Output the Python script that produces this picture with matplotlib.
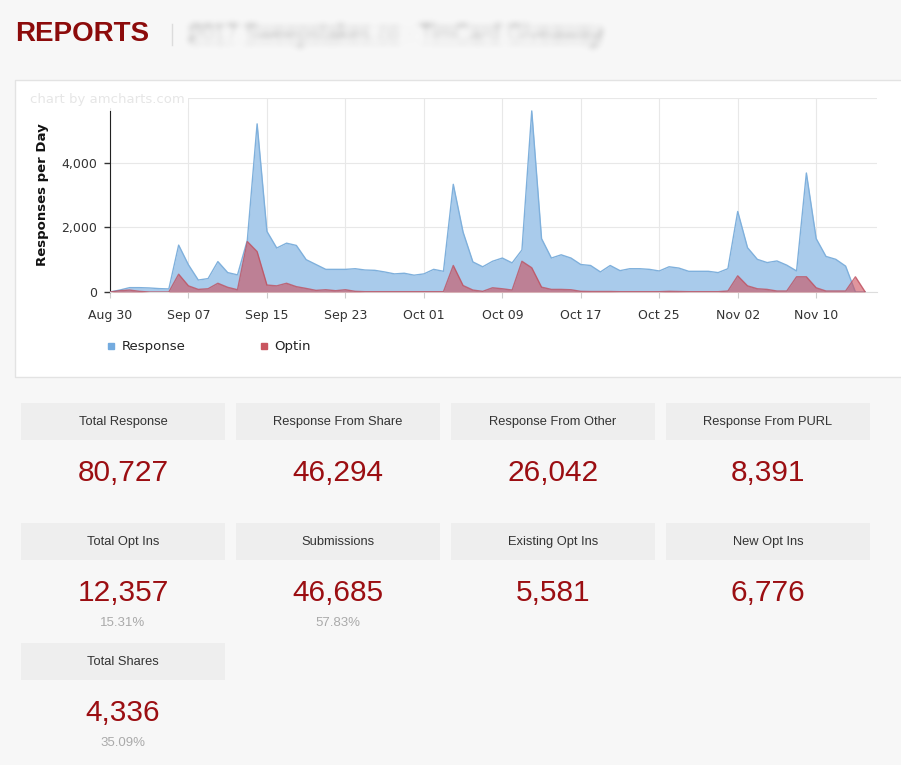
import numpy as np
import pandas as pd
import matplotlib
matplotlib.use("Agg")
import matplotlib.pyplot as plt
import matplotlib.dates as mdates
from matplotlib.patches import Rectangle
from matplotlib.lines import Line2D

W, H = 901, 765

# Daily values, Aug 30 - Nov 15 2017
start_date = "2017-08-30"
response = [0, 60, 135, 135, 125, 105, 95, 1450, 840, 370,
            415, 940, 600, 530, 1600, 5200, 1875, 1360, 1510, 1440,
            1000, 850, 700, 700, 700, 720, 680, 670, 620, 560,
            580, 520, 560, 700, 640, 3330, 1850, 930, 780, 950,
            1050, 900, 1300, 5600, 1650, 1050, 1150, 1050, 850, 820,
            620, 820, 660, 720, 720, 700, 650, 780, 740, 640,
            640, 640, 600, 720, 2490, 1370, 1010, 910, 960, 830,
            650, 3680, 1650, 1100, 1010, 800, 0, 0]
optin = [0, 40, 60, 20, 0, 0, 0, 550, 190, 80,
         100, 270, 145, 70, 1560, 1250, 215, 190, 270, 165,
         110, 50, 70, 40, 70, 20, 10, 10, 10, 10,
         10, 10, 10, 10, 10, 820, 200, 60, 20, 130,
         100, 60, 950, 750, 150, 80, 80, 70, 20, 15,
         15, 15, 10, 10, 10, 10, 10, 20, 15, 10,
         10, 10, 10, 30, 500, 190, 100, 80, 30, 30,
         470, 470, 130, 30, 30, 30, 470, 0]

y_ticks = [0, 2000, 4000]
y_ticklabels = ["0", "2,000", "4,000"]

tile_titles = ["Total Response", "Response From Share", "Response From Other", "Response From PURL",
               "Total Opt Ins", "Submissions", "Existing Opt Ins", "New Opt Ins",
               "Total Shares"]
tile_values = ["80,727", "46,294", "26,042", "8,391",
               "12,357", "46,685", "5,581", "6,776",
               "4,336"]
tile_pcts = ["", "", "", "",
             "15.31%", "57.83%", "", "",
             "35.09%"]


def fx(x):
    return x / W


def fy(y):
    return 1 - y / H


def blur(sigma):
    # gaussian blur used as an agg filter
    def _f(im, dpi):
        r = int(3 * sigma)
        k = np.exp(-0.5 * (np.arange(-r, r + 1) / sigma) ** 2)
        k /= k.sum()
        p = np.pad(im, ((r, r), (r, r), (0, 0)))
        a = np.zeros_like(p)
        for i, w in enumerate(k):
            a += w * np.roll(p, i - r, axis=0)
        b = np.zeros_like(a)
        for i, w in enumerate(k):
            b += w * np.roll(a, i - r, axis=1)
        return b, -r, -r
    return _f


fig = plt.figure(figsize=(W / 100, H / 100), dpi=100)
fig.patch.set_facecolor("#f7f7f7")

# Header
fig.text(fx(15), fy(34), "REPORTS", fontsize=20, fontweight="bold", color="#8c0b0b",
         family="Liberation Sans", va="center")
fig.add_artist(Line2D([fx(172), fx(172)], [fy(24), fy(45)], color="#dcdcdc", lw=1))
sub = fig.text(fx(190), fy(35), "2017 Sweepstakes.co - TimCard Giveaway", fontsize=15.5,
               color="#999999", family="Liberation Sans", va="center")
sub.set_agg_filter(blur(3.5))

# Chart panel
fig.add_artist(Rectangle((fx(15), fy(377)), fx(W), (377 - 80) / H, transform=fig.transFigure,
                         facecolor="white", edgecolor="#e3e3e3", lw=1, zorder=0))

ax = fig.add_axes([fx(110), fy(292), (877 - 110) / W, (292 - 98) / H])
ax.set_facecolor("white")

dates = pd.date_range(start_date, periods=len(response), freq="D")

ax.fill_between(dates, response, color="#a9cbeb", lw=0, zorder=2)
ax.plot(dates, response, color="#7fb0dc", lw=1, zorder=3)
ax.fill_between(dates, optin, color="#cc4e5c", alpha=0.6, lw=0, zorder=4)
ax.plot(dates, optin, color="#bf4f5e", lw=1, alpha=0.8, zorder=5)

start = pd.Timestamp(start_date)
ax.set_xlim(start, start + pd.Timedelta(days=78.2))
ax.set_ylim(0, 6000)

xt = pd.date_range(start_date, periods=10, freq="8D")
ax.set_xticks(xt)
ax.xaxis.set_major_formatter(mdates.DateFormatter("%b %d"))
ax.set_yticks(y_ticks)
ax.set_yticklabels(y_ticklabels)

ax.grid(True, color="#e8e8e8", lw=0.8, zorder=0)
ax.axhline(6000, color="#e8e8e8", lw=0.8, zorder=0)
ax.set_axisbelow(True)

for s in ["top", "right"]:
    ax.spines[s].set_visible(False)
ax.spines["left"].set_color("#222222")
ax.spines["left"].set_bounds(0, 5600)
ax.spines["bottom"].set_color("#dddddd")

ax.tick_params(axis="y", length=4, width=1, color="#333333", labelsize=9,
               labelcolor="#333333", pad=5)
ax.tick_params(axis="x", length=4, width=0.8, color="#cccccc", labelsize=9,
               labelcolor="#333333", pad=8)

ax.set_ylabel("Responses per Day", fontsize=9.5, fontweight="bold", color="#111111")
ax.yaxis.set_label_coords((49 - 110) / (877 - 110), 0.5)

fig.text(fx(30), fy(99), "chart by amcharts.com", fontsize=9.5, color="#e6e6e6", va="center",
         bbox=dict(facecolor="white", edgecolor="none", pad=2), zorder=5)

handles = [Line2D([], [], marker="s", ls="", color="#74abdf", markersize=5, label="Response"),
           Line2D([], [], marker="s", ls="", color="#c9555f", markersize=5, label="Optin")]
fig.legend(handles=handles, loc="center left", bbox_to_anchor=(fx(93), fy(347)), ncol=2,
           frameon=False, fontsize=9.5, handletextpad=0.3, columnspacing=5.4, handlelength=1,
           labelcolor="#222222")

# Stat tiles
row_tops = [403, 523, 643]
for i, (title, value, pct) in enumerate(zip(tile_titles, tile_values, tile_pcts)):
    row, col = divmod(i, 4)
    x0 = 21 + col * 215
    top = row_tops[row]
    fig.add_artist(Rectangle((fx(x0), fy(top + 37)), 204 / W, 37 / H, transform=fig.transFigure,
                             facecolor="#eeeeee", edgecolor="none", zorder=0))
    cx = fx(x0 + 102)
    fig.text(cx, fy(top + 19), title, fontsize=9.3, color="#333333", family="Liberation Sans",
             ha="center", va="center")
    fig.text(cx, fy(top + 70), value, fontsize=21.5, color="#9b0e12", family="Liberation Sans",
             ha="center", va="center")
    if pct:
        fig.text(cx, fy(top + 100), pct, fontsize=9.5, color="#aaaaaa", family="Liberation Sans",
                 ha="center", va="center")

fig.savefig("out.png", dpi=100, facecolor=fig.get_facecolor())
